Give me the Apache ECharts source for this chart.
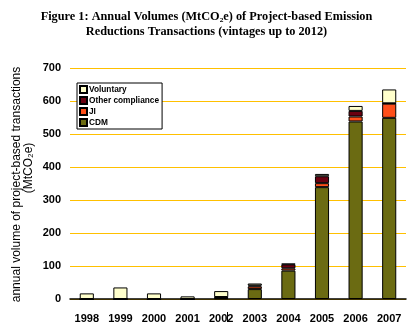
<!DOCTYPE html>
<html><head><meta charset="utf-8">
<script src="https://cdn.jsdelivr.net/npm/echarts@6/dist/echarts.min.js"></script>
<style>html,body{margin:0;padding:0;background:#fff}#c{width:413px;height:335px}</style>
</head><body><div id="c"></div>
<script>
var years = ['1998','1999','2000','2001','2002','2003','2004','2005','2006','2007'];
var cdm = [0, 0, 0, 0, 2, 30, 86, 339, 538, 549];
var ji = [0, 0, 0, 0, 3, 8, 7, 12, 15, 43];
var otherCompliance = [0, 0, 0, 0, 1, 3, 12, 21, 17, 1];
var voluntary = [17, 35, 17, 8, 18, 6, 2, 7, 15, 42];
var yTicks = [0, 100, 200, 300, 400, 500, 600, 700];

var chart = echarts.init(document.getElementById('c'), null, {renderer: 'canvas'});
function ser(name, data, color) {
  return {name: name, type: 'bar', stack: 'a', data: data, barCategoryGap: '58%',
    itemStyle: {color: color, borderColor: '#000', borderWidth: 1}, emphasis: {disabled: true}};
}
var axisFont = {fontFamily: 'Liberation Sans', fontSize: 12, fill: '#000'};
chart.setOption({
  animation: false,
  title: {
    text: 'Figure 1: Annual Volumes (MtCO₂e) of Project-based Emission\nReductions Transactions (vintages up to 2012)',
    left: 'center', top: 4,
    textStyle: {fontFamily: 'Liberation Serif', fontWeight: 'bold', fontSize: 12.3, color: '#000', lineHeight: 15}
  },
  legend: {
    data: ['Voluntary', 'Other compliance', 'JI', 'CDM'],
    orient: 'vertical', left: 77, top: 83, itemWidth: 7, itemHeight: 7, itemGap: 2,
    padding: [2, 3, 2, 2], borderColor: '#000', borderWidth: 1, backgroundColor: '#fff',
    icon: 'rect',
    textStyle: {fontFamily: 'Liberation Sans', fontWeight: 'bold', fontSize: 8.3, color: '#000', padding: [0, 0, 0, -3]},
    selectedMode: false
  },
  grid: {left: 70, right: 7, top: 68, height: 231},
  xAxis: {
    type: 'category', data: years,
    axisLine: {lineStyle: {color: '#000', width: 1.5}},
    axisTick: {show: false},
    axisLabel: {fontFamily: 'Liberation Sans', fontWeight: 'bold', fontSize: 11, color: '#000', margin: 14}
  },
  yAxis: {
    type: 'value', min: 0, max: 700, interval: 100,
    axisLine: {show: false}, axisTick: {show: false},
    axisLabel: {fontFamily: 'Liberation Sans', fontWeight: 'bold', fontSize: 11, color: '#000', margin: 9,
      formatter: function (v) { return yTicks.indexOf(v) >= 0 ? String(v) : ''; }},
    splitLine: {lineStyle: {color: '#FFC000', width: 1}}
  },
  series: [
    ser('CDM', cdm, '#6B6B12'),
    ser('JI', ji, '#FF4F1A'),
    ser('Other compliance', otherCompliance, '#6B0010'),
    ser('Voluntary', voluntary, '#FFFFCC')
  ],
  graphic: [
    {type: 'text', x: 17, y: 184.5, rotation: Math.PI / 2,
      style: Object.assign({text: 'annual volume of project-based transactions', textAlign: 'center', textVerticalAlign: 'middle'}, axisFont)},
    {type: 'text', x: 29, y: 168, rotation: Math.PI / 2,
      style: Object.assign({text: '(MtCO₂e)', textAlign: 'center', textVerticalAlign: 'middle'}, axisFont)},
    {type: 'line', shape: {x1: 227.5, y1: 312, x2: 227.5, y2: 322}, style: {stroke: '#000', lineWidth: 1}}
  ]
});
</script></body></html>
